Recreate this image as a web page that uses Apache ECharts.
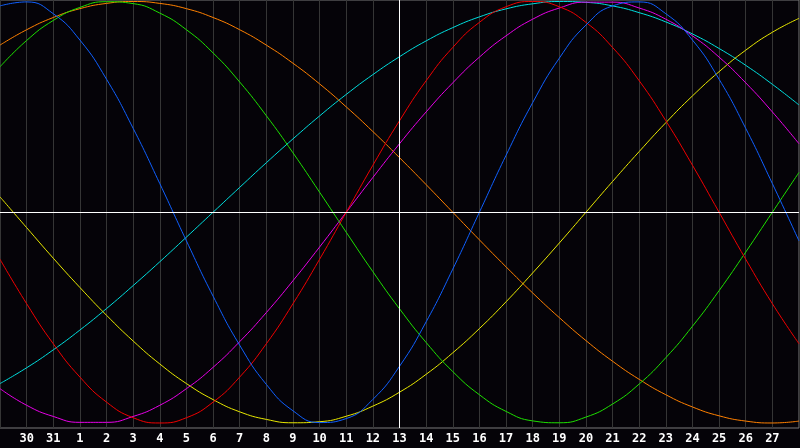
<!DOCTYPE html>
<html>
<head>
<meta charset="utf-8">
<script src="https://cdn.jsdelivr.net/npm/echarts@6/dist/echarts.min.js"></script>
<style>
html,body{margin:0;padding:0;background:#050308;}
#c{width:800px;height:448px;}
</style>
</head>
<body>
<div id="c"></div>
<script>
const dayLabels = ['29','30','31','1','2','3','4','5','6','7','8','9','10','11','12','13','14','15','16','17','18','19','20','21','22','23','24','25','26','27','28'];
const today = 15;

const blue = [0.979,0.998,0.942,0.817,0.631,0.398,0.136,-0.136,-0.398,-0.631,-0.817,-0.942,-0.998,-0.979,-0.888,-0.731,-0.520,-0.270,0,0.270,0.520,0.731,0.888,0.979,0.998,0.942,0.817,0.631,0.398,0.136,-0.136];
const red = [-0.223,-0.434,-0.624,-0.782,-0.901,-0.975,-1,-0.975,-0.901,-0.782,-0.624,-0.434,-0.223,0,0.223,0.434,0.624,0.782,0.901,0.975,1,0.975,0.901,0.782,0.624,0.434,0.223,0,-0.223,-0.434,-0.624];
const green = [0.690,0.815,0.910,0.972,0.999,0.990,0.945,0.866,0.756,0.618,0.458,0.282,0.095,-0.095,-0.282,-0.458,-0.618,-0.756,-0.866,-0.945,-0.990,-0.999,-0.972,-0.910,-0.815,-0.690,-0.541,-0.372,-0.189,0,0.189];
const magenta = [-0.837,-0.916,-0.969,-0.997,-0.997,-0.969,-0.916,-0.837,-0.736,-0.614,-0.476,-0.325,-0.165,0,0.165,0.325,0.476,0.614,0.736,0.837,0.916,0.969,0.997,0.997,0.969,0.916,0.837,0.736,0.614,0.476,0.325];
const yellow = [0.073,-0.073,-0.218,-0.357,-0.489,-0.611,-0.720,-0.813,-0.889,-0.947,-0.983,-0.999,-0.994,-0.968,-0.920,-0.854,-0.769,-0.667,-0.552,-0.425,-0.288,-0.146,0,0.146,0.288,0.425,0.552,0.667,0.769,0.854,0.920];
const orange = [0.793,0.866,0.924,0.966,0.991,1,0.991,0.966,0.924,0.866,0.793,0.707,0.609,0.5,0.383,0.259,0.131,0,-0.131,-0.259,-0.383,-0.5,-0.609,-0.707,-0.793,-0.866,-0.924,-0.966,-0.991,-1,-0.991];
const cyan = [-0.813,-0.738,-0.653,-0.559,-0.457,-0.348,-0.235,-0.118,0,0.118,0.235,0.348,0.457,0.559,0.653,0.738,0.813,0.876,0.927,0.965,0.989,1.0,0.996,0.979,0.947,0.903,0.846,0.777,0.697,0.607,0.509];

const seriesDefs = [
  {name:'cyan', data: cyan, color:'#00dede'},
  {name:'orange', data: orange, color:'#ff8000'},
  {name:'yellow', data: yellow, color:'#e8e800'},
  {name:'magenta', data: magenta, color:'#e800e8'},
  {name:'green', data: green, color:'#1ee000'},
  {name:'red', data: red, color:'#f00000'},
  {name:'blue', data: blue, color:'#1060ff'}
];

const chart = echarts.init(document.getElementById('c'));
const series = seriesDefs.map((s, i) => ({
  name: s.name,
  type: 'line',
  smooth: true,
  symbol: 'none',
  silent: true,
  lineStyle: {color: s.color, width: 1},
  data: s.data.map((v, k) => [k, v]),
  z: 3
}));
series.push({
  type: 'line',
  data: [],
  silent: true,
  markLine: {
    silent: true,
    symbol: 'none',
    label: {show: false},
    lineStyle: {color: '#ffffff', width: 1, type: 'solid'},
    data: [{xAxis: today}, {yAxis: 0}]
  },
  z: 2
});

chart.setOption({
  animation: false,
  backgroundColor: '#050308',
  grid: {left: 0, right: 1, top: 0, bottom: 20, show: true, borderColor: '#7a7a7a', borderWidth: 1, backgroundColor: 'transparent'},
  xAxis: {
    type: 'value', min: 0, max: 30, interval: 1,
    axisLine: {show: false},
    axisTick: {show: false},
    splitLine: {show: true, lineStyle: {color: '#353535', width: 1}},
    axisLabel: {
      show: true, color: '#ffffff', fontFamily: 'DejaVu Sans Mono', fontWeight: 'bold', fontSize: 12,
      margin: 5, showMinLabel: false, showMaxLabel: false,
      formatter: v => dayLabels[v]
    }
  },
  yAxis: {
    type: 'value', min: -1.0238, max: 1.0071,
    axisLine: {show: false}, axisTick: {show: false}, axisLabel: {show: false},
    splitLine: {show: false}
  },
  series: series
});
</script>
</body>
</html>
